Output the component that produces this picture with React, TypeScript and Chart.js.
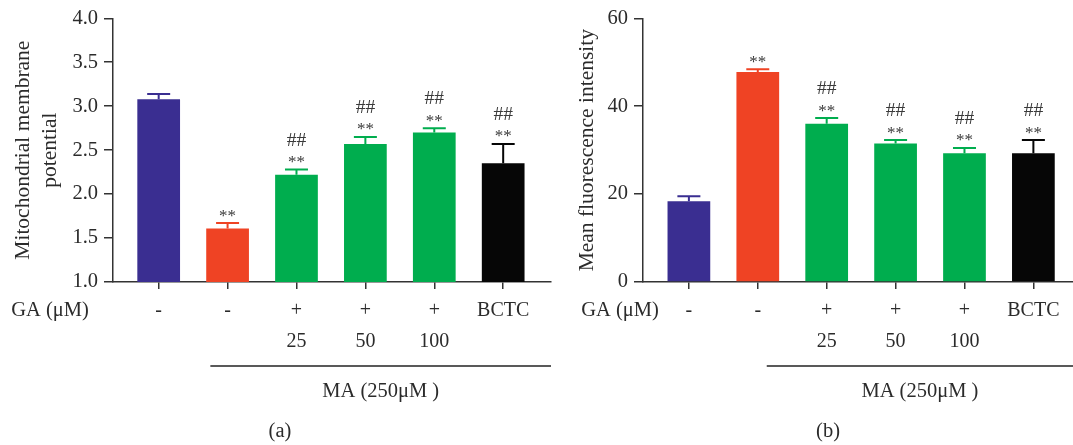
import React, { useEffect, useRef } from "react";
import { Chart, registerables } from "chart.js";

Chart.register(...registerables);

// ---- data ----
const groups = ["Control", "MA", "MA+GA25", "MA+GA50", "MA+GA100", "MA+BCTC"];
const gaRow = ["-", "-", "+", "+", "+", "BCTC"];
const doseRow = ["", "", "25", "50", "100", ""];
const barColors = ["#3a2e91", "#ef4324", "#00ad4e", "#00ad4e", "#00ad4e", "#060606"];

const mmpMean = [3.08, 1.61, 2.22, 2.57, 2.7, 2.35];
const mmpErr = [0.06, 0.06, 0.06, 0.08, 0.05, 0.22];
const mfiMean = [18.4, 47.8, 36.0, 31.5, 29.3, 29.3];
const mfiErr = [1.1, 0.6, 1.3, 0.8, 1.2, 3.0];

const starMarks = ["", "**", "**", "**", "**", "**"];
const hashMarks = ["", "", "##", "##", "##", "##"];

const mmpTicks = [1.0, 1.5, 2.0, 2.5, 3.0, 3.5, 4.0];
const mfiTicks = [0, 20, 40, 60];

const rowLabel = "GA (μM)";
const groupLabel = "MA (250μM )";

const FONT = "'Liberation Serif', 'DejaVu Serif', serif";
const TEXT = "#2b2b2b";

type PanelCfg = {
  mean: number[];
  err: number[];
  ticks: number[];
  yMin: number;
  yMax: number;
  decimals: number;
  title: string | string[];
  titlePad: number;
  yWidth: number;
  padRight: number;
  xMin: number;
  xMax: number;
  gaX: number;
  lineStart: number; // in x-value units
  letter: string;
  letterX: number;
};

function makeChart(canvas: HTMLCanvasElement, cfg: PanelCfg) {
  const annot = {
    id: "annot",
    afterDatasetsDraw(chart: any) {
      const ctx = chart.ctx;
      const xs = chart.scales.x;
      const ys = chart.scales.y;
      ctx.save();
      for (let i = 0; i < cfg.mean.length; i++) {
        const x = xs.getPixelForValue(i);
        const yb = ys.getPixelForValue(cfg.mean[i]);
        const yt = ys.getPixelForValue(cfg.mean[i] + cfg.err[i]);
        ctx.strokeStyle = barColors[i];
        ctx.lineWidth = 2;
        ctx.beginPath();
        ctx.moveTo(x, yb);
        ctx.lineTo(x, yt);
        ctx.moveTo(x - 11.5, yt);
        ctx.lineTo(x + 11.5, yt);
        ctx.stroke();
        ctx.fillStyle = "#3a3a3a";
        ctx.textAlign = "center";
        ctx.textBaseline = "alphabetic";
        if (starMarks[i]) {
          ctx.font = `17px ${FONT}`;
          ctx.fillText(starMarks[i], x, yt - 12 + 9.5);
        }
        if (hashMarks[i]) {
          ctx.font = `19.5px ${FONT}`;
          ctx.textBaseline = "middle";
          ctx.fillText(hashMarks[i], x, yt - 29);
        }
      }
      ctx.restore();
    },
    afterDraw(chart: any) {
      const ctx = chart.ctx;
      const xs = chart.scales.x;
      const area = chart.chartArea;
      ctx.save();
      ctx.fillStyle = TEXT;
      ctx.font = `20.5px ${FONT}`;
      ctx.textAlign = "center";
      ctx.textBaseline = "middle";
      ctx.fillText(rowLabel, cfg.gaX, 310.5);
      const x0 = xs.getPixelForValue(cfg.lineStart);
      const x1 = area.right;
      ctx.strokeStyle = "#222";
      ctx.lineWidth = 1.5;
      ctx.beginPath();
      ctx.moveTo(x0, 366);
      ctx.lineTo(x1, 366);
      ctx.stroke();
      ctx.fillText(groupLabel, (x0 + x1) / 2, 392);
      ctx.fillText(cfg.letter, cfg.letterX, 432);
      ctx.restore();
    },
  };

  return new Chart(canvas, {
    type: "bar",
    data: {
      datasets: [
        {
          data: cfg.mean.map((y, i) => ({ x: i, y })),
          backgroundColor: barColors,
          borderWidth: 0,
          barPercentage: 0.62,
          categoryPercentage: 1,
        },
      ],
    },
    options: {
      animation: false,
      responsive: false,
      maintainAspectRatio: false,
      layout: { padding: { left: 0, right: cfg.padRight, top: 16, bottom: 0 } },
      plugins: { legend: { display: false }, tooltip: { enabled: false } },
      scales: {
        x: {
          type: "linear",
          offset: false,
          min: cfg.xMin,
          max: cfg.xMax,
          afterBuildTicks: (s: any) => {
            s.ticks = groups.map((_, i) => ({ value: i }));
          },
          afterFit: (s: any) => {
            s.height = 163;
          },
          ticks: {
            autoSkip: false,
            maxRotation: 0,
            padding: 6,
            color: TEXT,
            font: { family: FONT, size: 20, lineHeight: 1.57 },
            callback: (v: any) => {
              const i = Math.round(Number(v));
              return [gaRow[i], doseRow[i]];
            },
          },
          grid: { offset: false, drawOnChartArea: false, drawTicks: true, tickLength: 7, color: "#333", lineWidth: 1.5 },
          border: { display: true, color: "#333", width: 1.5 },
        },
        y: {
          type: "linear",
          min: cfg.yMin,
          max: cfg.yMax,
          afterBuildTicks: (s: any) => {
            s.ticks = cfg.ticks.map((v) => ({ value: v }));
          },
          afterFit: (s: any) => {
            s.width = cfg.yWidth;
          },
          ticks: {
            padding: 6,
            color: TEXT,
            font: { family: FONT, size: 20.5 },
            callback: (v: any) => Number(v).toFixed(cfg.decimals),
          },
          grid: { drawOnChartArea: false, drawTicks: true, tickLength: 9, color: "#333", lineWidth: 1.5 },
          border: { display: true, color: "#333", width: 1.5 },
          title: {
            display: true,
            text: cfg.title,
            color: TEXT,
            font: { family: FONT, size: 21.5, lineHeight: 1.256 },
            padding: { top: cfg.titlePad, bottom: 0 },
          },
        },
      },
    },
    plugins: [annot],
  } as any);
}

function Panel({ cfg, left, width }: { cfg: PanelCfg; left: number; width: number }) {
  const ref = useRef<HTMLCanvasElement | null>(null);
  useEffect(() => {
    if (!ref.current) return;
    const c = makeChart(ref.current, cfg);
    return () => c.destroy();
  }, []);
  return (
    <div style={{ position: "absolute", left, top: 0, width, height: 445 }}>
      <canvas ref={ref} width={width} height={445} style={{ width, height: 445, display: "block" }} />
    </div>
  );
}

const cfgA: PanelCfg = {
  mean: mmpMean,
  err: mmpErr,
  ticks: mmpTicks,
  yMin: 1,
  yMax: 4,
  decimals: 1,
  title: ["Mitochondrial membrane", "potential"],
  titlePad: 9.5,
  yWidth: 113,
  padRight: 9,
  xMin: -0.663,
  xMax: 5.694,
  gaX: 50,
  lineStart: 0.75,
  letter: "(a)",
  letterX: 280,
};

const cfgB: PanelCfg = {
  mean: mfiMean,
  err: mfiErr,
  ticks: mfiTicks,
  yMin: 0,
  yMax: 60,
  decimals: 0,
  title: "Mean fluorescence intensity",
  titlePad: 14,
  yWidth: 83,
  padRight: 0,
  xMin: -0.666,
  xMax: 5.575,
  gaX: 60,
  lineStart: 1.13,
  letter: "(b)",
  letterX: 268,
};

export default function App() {
  return (
    <div style={{ position: "absolute", left: 0, top: 0, width: 1073, height: 445, background: "#fff", overflow: "hidden" }}>
      <Panel cfg={cfgA} left={0} width={560} />
      <Panel cfg={cfgB} left={560} width={513} />
    </div>
  );
}
